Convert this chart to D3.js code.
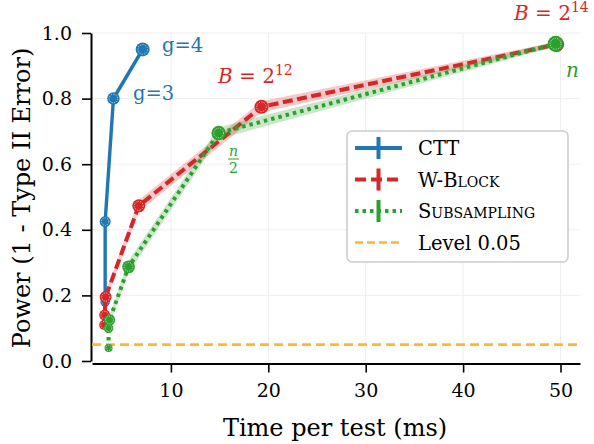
<html>
<head>
  <title>Power vs time</title>
  <script src='https://d3js.org/d3.v7.min.js'></script>
  <style>
    body { margin: 0; background: white; }
    text { font-family: 'DejaVu Serif', serif; }
  </style>
</head>
<body>
<script>

// data (time per test in ms, power)
var cttTime  = [3.2, 3.25, 3.25, 4.1, 7.1],
    cttPower = [0.11, 0.18, 0.425, 0.80, 0.95],
    cttErr   = [0.006, 0.008, 0.010, 0.012, 0.010];

var blockTime  = [3.15, 3.2, 3.3, 6.7, 19.3, 49.6],
    blockPower = [0.11, 0.14, 0.195, 0.473, 0.775, 0.965],
    blockErr   = [0.010, 0.012, 0.015, 0.018, 0.017, 0.008];

var subTime  = [3.6, 3.6, 3.7, 5.65, 14.9, 49.5],
    subPower = [0.04, 0.10, 0.125, 0.287, 0.695, 0.967],
    subErr   = [0.008, 0.012, 0.015, 0.019, 0.018, 0.008];

var level = 0.05,
    xTicks = [10, 20, 30, 40, 50],
    yTicks = [0.0, 0.2, 0.4, 0.6, 0.8, 1.0],
    legendNames = ['CTT', 'W-Block', 'Subsampling', 'Level 0.05'];

var width = 594,
    height = 444,
    pLeft = 92, pRight = 580, pTop = 33, pBottom = 361;

var blue = '#1f77b4', red = '#d62728', green = '#2ca02c', orange = '#ffb733';

var svg = d3.select('body')
          .append('svg')
          .attr('width', width)
          .attr('height', height);

var x = d3.scaleLinear().domain([1.9, 52]).range([pLeft, pRight]);
var y = d3.scaleLinear().domain([0, 1]).range([pBottom, pTop]);

// grid
svg.append('g').selectAll('line')
   .data(yTicks.slice(1))
   .enter().append('line')
   .attr('x1', pLeft).attr('x2', pRight)
   .attr('y1', function(d) { return y(d); })
   .attr('y2', function(d) { return y(d); })
   .attr('stroke', '#ececec').attr('stroke-width', 0.9);

svg.append('g').selectAll('line')
   .data(xTicks)
   .enter().append('line')
   .attr('y1', pTop).attr('y2', pBottom)
   .attr('x1', function(d) { return x(d); })
   .attr('x2', function(d) { return x(d); })
   .attr('stroke', '#ececec').attr('stroke-width', 0.9);

// axes (spines pushed out a little)
var yAxis = svg.append('g')
  .attr('transform', 'translate(91,0)')
  .call(d3.axisLeft(y).tickValues(yTicks).tickFormat(d3.format('.1f'))
        .tickSize(9).tickSizeOuter(0).tickPadding(10));

var xAxis = svg.append('g')
  .attr('transform', 'translate(0,363.5)')
  .call(d3.axisBottom(x).tickValues(xTicks).tickFormat(d3.format('d'))
        .tickSize(9).tickSizeOuter(0).tickPadding(11));

[yAxis, xAxis].forEach(function(a) {
  a.select('.domain').attr('stroke-width', 2);
  a.selectAll('.tick line').attr('stroke-width', 1.6);
  a.selectAll('.tick text')
   .attr('font-family', 'DejaVu Serif')
   .attr('font-size', 19)
   .attr('fill', 'black');
});

// level line
svg.append('line')
   .attr('x1', pLeft).attr('x2', pRight)
   .attr('y1', y(level)).attr('y2', y(level))
   .attr('stroke', orange)
   .attr('stroke-width', 2.6)
   .attr('stroke-dasharray', '9,5');

var series = [
  {name: 'CTT', t: cttTime, p: cttPower, e: cttErr, color: blue, dash: null, lw: 3.4, r0: 4, r1: 7},
  {name: 'W-Block', t: blockTime, p: blockPower, e: blockErr, color: red, dash: '10,4.5', lw: 4, r0: 5, r1: 7.5},
  {name: 'Subsampling', t: subTime, p: subPower, e: subErr, color: green, dash: '3.5,4', lw: 4, r0: 4, r1: 8}
];

var band = d3.area()
  .x(function(d) { return x(d[0]); })
  .y0(function(d) { return y(d[1] - d[2]); })
  .y1(function(d) { return y(d[1] + d[2]); });

var line = d3.line()
  .x(function(d) { return x(d[0]); })
  .y(function(d) { return y(d[1]); });

series.forEach(function(s) {
  var pts = s.t.map(function(t, i) { return [t, s.p[i], s.e[i]]; });
  var g = svg.append('g');

  g.append('path')
   .attr('d', band(pts))
   .attr('fill', s.color)
   .attr('fill-opacity', 0.25);

  g.append('path')
   .attr('d', line(pts))
   .attr('fill', 'none')
   .attr('stroke', s.color)
   .attr('stroke-width', s.lw)
   .attr('stroke-dasharray', s.dash);

  var rad = d3.scaleLinear().domain([0, pts.length - 1]).range([s.r0, s.r1]);

  var m = g.selectAll('g.mark')
   .data(pts)
   .enter().append('g')
   .attr('class', 'mark')
   .attr('transform', function(d) { return 'translate(' + x(d[0]) + ',' + y(d[1]) + ')'; });

  m.append('circle')
   .attr('r', function(d, i) { return rad(i); })
   .attr('fill', s.color);

  m.append('circle')
   .attr('r', function(d, i) { return rad(i) * 0.68; })
   .attr('fill', 'none')
   .attr('stroke', 'white')
   .attr('stroke-opacity', 0.8)
   .attr('stroke-width', 0.8)
   .attr('stroke-dasharray', '1.2,1.2');
});

// annotations
svg.append('text').attr('x', 162).attr('y', 52)
   .attr('font-size', 19.5).attr('fill', blue).text('g=4');
svg.append('text').attr('x', 133).attr('y', 100)
   .attr('font-size', 19.5).attr('fill', blue).text('g=3');

function powLabel(xp, yp, exp) {
  var t = svg.append('text').attr('x', xp).attr('y', yp)
     .attr('font-size', 20).attr('fill', red);
  t.append('tspan').attr('font-style', 'italic').text('B');
  t.append('tspan').text(' = 2');
  t.append('tspan').attr('font-size', 14).attr('dy', -8).text(exp);
}
powLabel(218, 83, '12');
powLabel(514, 20, '14');

svg.append('text').attr('x', 566).attr('y', 77)
   .attr('font-size', 20).attr('font-style', 'italic').attr('fill', green).text('n');

svg.append('text').attr('x', 233.5).attr('y', 156).attr('text-anchor', 'middle')
   .attr('font-size', 14).attr('font-style', 'italic').attr('fill', green).text('n');
svg.append('line').attr('x1', 228).attr('x2', 239).attr('y1', 159).attr('y2', 159)
   .attr('stroke', green).attr('stroke-width', 1);
svg.append('text').attr('x', 233.5).attr('y', 173).attr('text-anchor', 'middle')
   .attr('font-size', 14).attr('fill', green).text('2');

// axis titles
svg.append('text')
   .attr('x', (pLeft + pRight) / 2 - 1).attr('y', 436)
   .attr('text-anchor', 'middle')
   .attr('font-size', 24)
   .text('Time per test (ms)');

svg.append('text')
   .attr('transform', 'translate(30,198)rotate(-90)')
   .attr('text-anchor', 'middle')
   .attr('font-size', 24)
   .text('Power (1 - Type II Error)');

// legend
var leg = svg.append('g').attr('transform', 'translate(347,131)');

leg.append('rect')
   .attr('width', 221).attr('height', 131)
   .attr('rx', 5).attr('ry', 5)
   .attr('fill', 'white').attr('fill-opacity', 0.85)
   .attr('stroke', '#cccccc').attr('stroke-width', 1.6);

var legItems = [
  {color: blue, dash: null, lw: 4, bar: true},
  {color: red, dash: '11,5', lw: 4, bar: true},
  {color: green, dash: '3.5,4', lw: 4, bar: true},
  {color: orange, dash: '8,4', lw: 2.6, bar: false}
];

var rows = leg.selectAll('g.row')
   .data(legendNames)
   .enter().append('g')
   .attr('class', 'row')
   .attr('transform', function(d, i) { return 'translate(0,' + (17 + i * 31.5) + ')'; });

rows.append('line')
   .attr('x1', 8).attr('x2', 55)
   .attr('stroke', function(d, i) { return legItems[i].color; })
   .attr('stroke-width', function(d, i) { return legItems[i].lw; })
   .attr('stroke-dasharray', function(d, i) { return legItems[i].dash; });

rows.filter(function(d, i) { return legItems[i].bar; })
   .append('line')
   .attr('x1', 31.5).attr('x2', 31.5).attr('y1', -11).attr('y2', 11)
   .attr('stroke', function(d, i) { return legItems[i].color; })
   .attr('stroke-width', 4);

rows.append('text')
   .attr('x', 71).attr('y', 7)
   .attr('font-size', 19.5)
   .style('font-variant', function(d, i) { return (i == 1 || i == 2) ? 'small-caps' : 'normal'; })
   .text(function(d) { return d; });

</script>
</body>
</html>
